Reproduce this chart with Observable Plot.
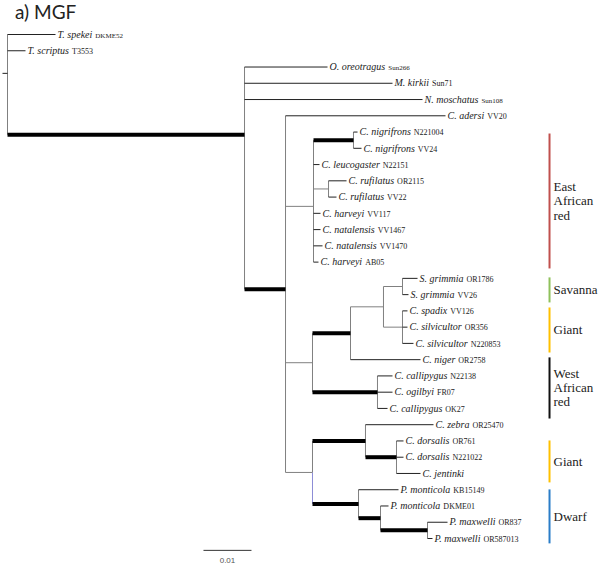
<!DOCTYPE html>
<html><head><meta charset="utf-8">
<script src="https://cdn.jsdelivr.net/npm/d3@7"></script>
<script src="https://cdn.jsdelivr.net/npm/@observablehq/plot@0.6"></script>
<style>
body{margin:0;background:#fff;}
#wrap{position:relative;width:600px;height:568px;}
#title{position:absolute;left:15px;top:2px;font-family:Lato,"Open Sans",sans-serif;font-size:19px;line-height:19px;color:#222;}
</style>
</head><body>
<div id="wrap"><div id="title">a) MGF</div><div id="chart"></div></div>
<script>
// ---- DATA ----
// Leaves, top to bottom
const leafNames = ["T. spekei","T. scriptus","O. oreotragus","M. kirkii","N. moschatus","C. adersi","C. nigrifrons","C. nigrifrons","C. leucogaster","C. rufilatus","C. rufilatus","C. harveyi","C. natalensis","C. natalensis","C. harveyi","S. grimmia","S. grimmia","C. spadix","C. silvicultor","C. silvicultor","C. niger","C. callipygus","C. ogilbyi","C. callipygus","C. zebra","C. dorsalis","C. dorsalis","C. jentinki","P. monticola","P. monticola","P. maxwelli","P. maxwelli"];
const leafCodes = ["DKME52","T3553","Sun266","Sun71","Sun108","VV20","N221004","VV24","N22151","OR2115","VV22","VV117","VV1467","VV1470","AB05","OR1786","VV26","VV126","OR356","N220853","OR2758","N22138","FR07","OK27","OR25470","OR761","N221022","","KB15149","DKME01","OR837","OR587013"];
const leafParents = ["R","R","A","A","A","B","NIG","NIG","EA","RUF","RUF","EA","EA","EA","EA","GRI","GRI","GIA","GIA","GIA","D","WA","WA","WA","H","DOR","DOR","DOR","P","P2","MAX","MAX"];
// distance from root (substitutions/site)
const leafDepths = [0.0100,0.00375,0.06667,0.08021,0.08646,0.09125,0.07292,0.07375,0.0650,0.07063,0.06854,0.06521,0.06521,0.06563,0.06479,0.08542,0.08354,0.08333,0.08333,0.08458,0.08604,0.08021,0.08021,0.07917,0.08875,0.0825,0.0825,0.08604,0.08146,0.07938,0.09167,0.08854];

// Internal nodes
const nodeIds     = ["R","A","B","EA","NIG","RUF","C","D","E","GRI","GIA","WA","F","H","DOR","P","P2","MAX"];
const nodeParents = [null,"R","A","B","EA","EA","B","C","D","E","E","C","B","F","H","F","P","P2"];
const nodeDepths  = [0,0.04938,0.05792,0.06375,0.07208,0.06688,0.06354,0.07146,0.07833,0.08229,0.08229,0.07708,0.06354,0.07458,0.08104,0.07313,0.07771,0.0875];
// branches (leading to these nodes) drawn bold
const thickBranches = ["A","B","NIG","D","WA","H","DOR","P","P2","MAX"];
const rootStem = 0.00104;

// Clade labels (span in leaf-row units)
const groupLabels = ["East\nAfrican\nred","Savanna","Giant","West\nAfrican\nred","Giant","Dwarf"];
const groupStart  = [6.09,14.94,16.79,19.86,24.97,27.98];
const groupEnd    = [14.39,16.48,19.56,23.62,27.55,31.30];

const scaleBarLength = 0.01;
const scaleBarLabel = "0.01";

// ---- STYLE / LAYOUT ----
const groupColors = ["#c0504d","#8fc15b","#ffc000","#111111","#ffc000","#2a7dc8"];
const smallCodes = ["DKME52","Sun266","Sun108"];
const SERIF = "'Liberation Serif', 'Times New Roman', serif";
const BAR_X = 0.11292, LABEL_X = 0.11375;
const SCALE_X0 = 0.04083, SCALE_Y = 31.73, SCALE_LABEL_Y = 32.35;

// ---- BUILD TREE ----
const nodes = new Map();
nodeIds.forEach((id,i)=>nodes.set(id,{id,parent:nodeParents[i],x:nodeDepths[i],children:[],leaf:false}));
leafNames.forEach((n,i)=>nodes.set("L"+i,{id:"L"+i,parent:leafParents[i],x:leafDepths[i],y:i,children:[],leaf:true,name:n,code:leafCodes[i]}));
for (const n of nodes.values()) if (n.parent) nodes.get(n.parent).children.push(n);
function setY(n){ if (n.leaf) return n.y; n.y = d3.mean(n.children, setY); return n.y; }
const root = nodes.get("R");
setY(root);

const horiz = [];
for (const n of nodes.values()) {
  if (!n.parent) continue;
  const p = nodes.get(n.parent);
  horiz.push({x1:p.x, x2:n.x, y:n.y, thick:thickBranches.includes(n.id), leaf:n.leaf});
}
horiz.push({x1:-rootStem, x2:0, y:root.y, thick:false, leaf:true});
const verts = [];
for (const n of nodes.values()) {
  if (n.leaf) continue;
  const ys = n.children.map(c=>c.y);
  const lo = d3.min(ys), hi = d3.max(ys);
  if (n.id === "F") {
    verts.push({x:n.x, y1:lo, y2:n.y, c:"#808080"});
    verts.push({x:n.x, y1:n.y, y2:hi, c:"#8c8cd6"});
  } else verts.push({x:n.x, y1:lo, y2:hi, c:"#808080"});
}
const leaves = [...nodes.values()].filter(n=>n.leaf);
const groups = groupLabels.map((t,i)=>({t, s:groupStart[i], e:groupEnd[i], c:groupColors[i]}));

const chart = Plot.plot({
  width:600, height:568, margin:0,
  style:{fontFamily:SERIF},
  x:{domain:[0,0.1], range:[7,487], axis:null},
  y:{domain:[0,31], range:[34,538], axis:null},
  marks:[
    Plot.link(verts,{x1:"x",x2:"x",y1:"y1",y2:"y2",stroke:"c",strokeWidth:1}),
    Plot.link(horiz.filter(d=>!d.thick),{x1:"x1",x2:"x2",y1:"y",y2:"y",stroke:d=>d.leaf?"#222":"#808080",strokeWidth:1}),
    Plot.link(horiz.filter(d=>d.thick),{x1:"x1",x2:"x2",y1:"y",y2:"y",stroke:"#000",strokeWidth:4}),
    Plot.text(leaves,{x:"x",y:"y",text:d=>d.name+"|"+d.code,textAnchor:"start",dx:2,fontSize:10,fontFamily:SERIF,fill:"#222"}),
    Plot.link(groups,{x1:()=>BAR_X,x2:()=>BAR_X,y1:"s",y2:"e",stroke:"c",strokeWidth:2}),
    Plot.text(groups,{x:()=>LABEL_X,y:d=>(d.s+d.e)/2,text:"t",textAnchor:"start",lineAnchor:"middle",lineHeight:1.08,fontSize:13,fontFamily:SERIF,fill:"#222"}),
    Plot.link([scaleBarLength],{x1:()=>SCALE_X0,x2:d=>SCALE_X0+d,y1:()=>SCALE_Y,y2:()=>SCALE_Y,stroke:"#333",strokeWidth:1}),
    Plot.text([scaleBarLabel],{x:()=>SCALE_X0+scaleBarLength/2,y:()=>SCALE_LABEL_Y,text:d=>d,fontSize:8,fontFamily:"'Liberation Sans', Arial, sans-serif",fill:"#555"})
  ]
});
document.getElementById("chart").appendChild(chart);

const NS = "http://www.w3.org/2000/svg";
chart.querySelectorAll("text").forEach(t=>{
  const s = t.textContent;
  if (s === scaleBarLabel) return;
  t.style.fontFamily = SERIF;
  t.querySelectorAll("tspan").forEach(ts=>ts.style.fontFamily = SERIF);
  if (!s.includes("|")) return;
  // split leaf labels into italic name + small upright code
  const [nm, cd] = s.split("|");
  t.textContent = "";
  const a = document.createElementNS(NS,"tspan");
  a.setAttribute("font-style","italic"); a.textContent = nm; t.appendChild(a);
  if (cd) {
    const b = document.createElementNS(NS,"tspan");
    b.setAttribute("font-size", smallCodes.includes(cd) ? "7" : "8");
    b.setAttribute("dx","3"); b.textContent = cd; t.appendChild(b);
  }
});
</script>
</body></html>
